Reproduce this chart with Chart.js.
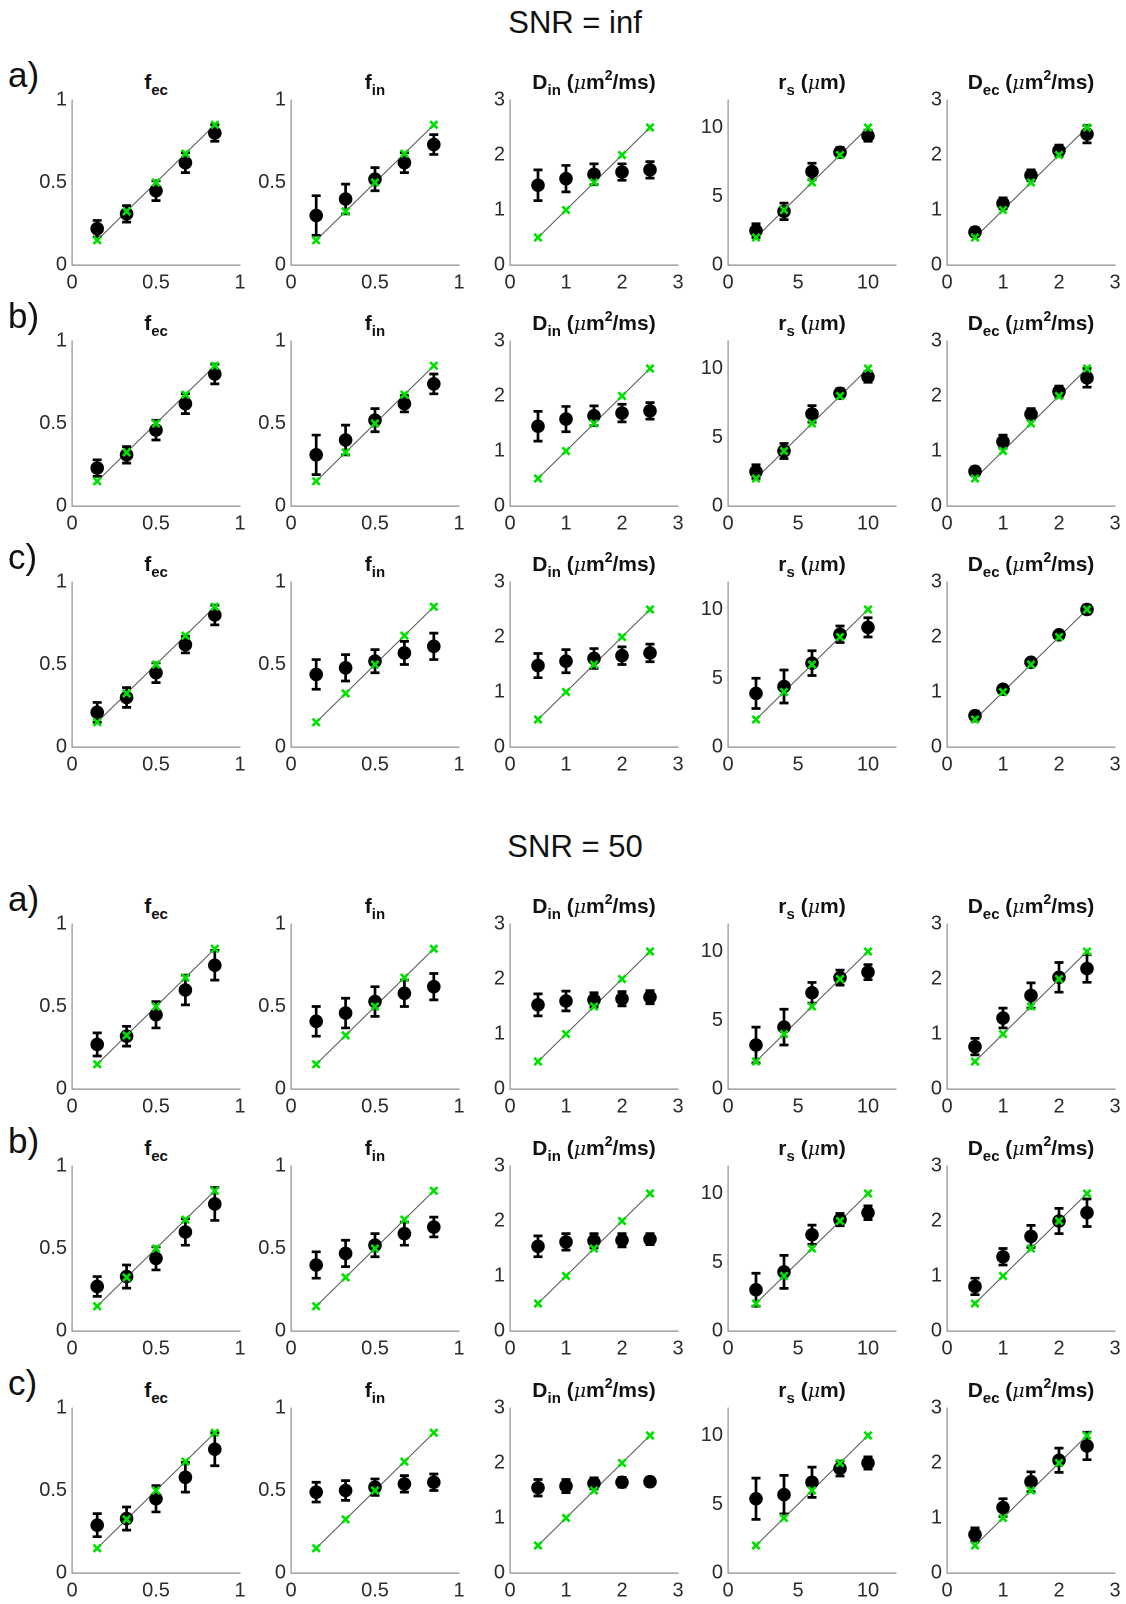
<!DOCTYPE html>
<html><head><meta charset="utf-8">
<script src="https://cdn.jsdelivr.net/npm/chart.js@4.4.1/dist/chart.umd.min.js"></script>
<style>
body{margin:0;background:#fff;}
#page{position:relative;width:1126px;height:1604px;background:#fff;font-family:"Liberation Sans",Arial,sans-serif;overflow:hidden;}
.sec{position:absolute;width:1126px;text-align:center;font-size:31px;color:#111;line-height:34px;}
.row{position:absolute;font-size:35px;color:#111;line-height:36px;}
.ttl{position:absolute;width:240px;text-align:center;font-weight:bold;font-size:21px;color:#111;white-space:nowrap;line-height:24px;}
.ttl sub{font-size:15px;vertical-align:-6px;line-height:0;}
.ttl sup{font-size:14px;vertical-align:9px;line-height:0;}
.ttl i{font-weight:normal;font-family:"DejaVu Serif","Liberation Serif",serif;font-size:19px;}
canvas{position:absolute;}
</style></head>
<body><div id="page"></div>
<script>
// ---- tick labels / truth values ----
const fTicks = [0, 0.5, 1];
const dTicks = [0, 1, 2, 3];
const rTicks = [0, 5, 10];
const fTrue = [0.15, 0.325, 0.5, 0.675, 0.85];
const dTrue = [0.5, 1, 1.5, 2, 2.5];
const rTrue = [2, 4, 6, 8, 10];

// ---- SNR = inf ----
const inf_a_fec = [0.22, 0.31, 0.45, 0.62, 0.80];
const inf_a_fec_err = [0.05, 0.05, 0.06, 0.06, 0.05];
const inf_a_fin = [0.30, 0.40, 0.52, 0.62, 0.73];
const inf_a_fin_err = [0.12, 0.09, 0.07, 0.06, 0.06];
const inf_a_din = [1.45, 1.57, 1.65, 1.69, 1.73];
const inf_a_din_err = [0.28, 0.24, 0.19, 0.15, 0.15];
const inf_a_rs = [2.5, 3.9, 6.8, 8.2, 9.4];
const inf_a_rs_err = [0.5, 0.6, 0.6, 0.35, 0.4];
const inf_a_dec = [0.60, 1.12, 1.63, 2.08, 2.38];
const inf_a_dec_err = [0.08, 0.10, 0.10, 0.10, 0.16];

const inf_b_fec = [0.23, 0.31, 0.46, 0.62, 0.80];
const inf_b_fec_err = [0.05, 0.05, 0.06, 0.06, 0.06];
const inf_b_fin = [0.31, 0.40, 0.52, 0.62, 0.74];
const inf_b_fin_err = [0.12, 0.09, 0.07, 0.05, 0.06];
const inf_b_din = [1.45, 1.58, 1.64, 1.69, 1.73];
const inf_b_din_err = [0.27, 0.23, 0.18, 0.16, 0.15];
const inf_b_rs = [2.5, 4.0, 6.7, 8.2, 9.4];
const inf_b_rs_err = [0.5, 0.55, 0.6, 0.35, 0.4];
const inf_b_dec = [0.63, 1.17, 1.67, 2.08, 2.33];
const inf_b_dec_err = [0.08, 0.12, 0.10, 0.10, 0.17];

const inf_c_fec = [0.21, 0.30, 0.45, 0.62, 0.80];
const inf_c_fec_err = [0.06, 0.06, 0.06, 0.05, 0.06];
const inf_c_fin = [0.44, 0.48, 0.52, 0.57, 0.61];
const inf_c_fin_err = [0.09, 0.08, 0.07, 0.07, 0.08];
const inf_c_din = [1.48, 1.56, 1.61, 1.66, 1.71];
const inf_c_din_err = [0.22, 0.21, 0.18, 0.16, 0.16];
const inf_c_rs = [3.9, 4.4, 6.1, 8.2, 8.7];
const inf_c_rs_err = [1.1, 1.2, 0.9, 0.6, 0.7];
const inf_c_dec = [0.57, 1.05, 1.54, 2.04, 2.50];
const inf_c_dec_err = [0.08, 0.05, 0.05, 0.05, 0.08];

// ---- SNR = 50 ----
const s50_a_fec = [0.27, 0.32, 0.45, 0.60, 0.75];
const s50_a_fec_err = [0.07, 0.06, 0.08, 0.09, 0.09];
const s50_a_fin = [0.41, 0.46, 0.53, 0.58, 0.62];
const s50_a_fin_err = [0.09, 0.09, 0.09, 0.08, 0.08];
const s50_a_din = [1.53, 1.60, 1.62, 1.64, 1.67];
const s50_a_din_err = [0.20, 0.18, 0.13, 0.13, 0.12];
const s50_a_rs = [3.2, 4.5, 7.0, 8.1, 8.5];
const s50_a_rs_err = [1.3, 1.3, 0.75, 0.55, 0.55];
const s50_a_dec = [0.77, 1.29, 1.70, 2.03, 2.19];
const s50_a_dec_err = [0.15, 0.18, 0.23, 0.27, 0.25];

const s50_b_fec = [0.27, 0.33, 0.44, 0.60, 0.77];
const s50_b_fec_err = [0.06, 0.07, 0.07, 0.08, 0.10];
const s50_b_fin = [0.40, 0.47, 0.52, 0.59, 0.63];
const s50_b_fin_err = [0.08, 0.08, 0.07, 0.07, 0.06];
const s50_b_din = [1.54, 1.62, 1.64, 1.65, 1.67];
const s50_b_din_err = [0.19, 0.15, 0.13, 0.12, 0.10];
const s50_b_rs = [3.0, 4.3, 7.0, 8.1, 8.6];
const s50_b_rs_err = [1.2, 1.2, 0.7, 0.45, 0.5];
const s50_b_dec = [0.81, 1.35, 1.72, 2.00, 2.15];
const s50_b_dec_err = [0.15, 0.15, 0.20, 0.23, 0.25];

const s50_c_fec = [0.29, 0.33, 0.45, 0.58, 0.75];
const s50_c_fec_err = [0.07, 0.07, 0.08, 0.09, 0.10];
const s50_c_fin = [0.49, 0.50, 0.52, 0.54, 0.55];
const s50_c_fin_err = [0.06, 0.06, 0.05, 0.05, 0.05];
const s50_c_din = [1.55, 1.58, 1.63, 1.65, 1.66];
const s50_c_din_err = [0.15, 0.12, 0.10, 0.09, 0.08];
const s50_c_rs = [5.4, 5.7, 6.6, 7.6, 8.0];
const s50_c_rs_err = [1.5, 1.4, 1.1, 0.55, 0.45];
const s50_c_dec = [0.70, 1.19, 1.66, 2.05, 2.31];
const s50_c_dec_err = [0.12, 0.16, 0.18, 0.22, 0.25];

const sectionTitles = ['SNR = inf', 'SNR = 50'];
const rowLabels = ['a)', 'b)', 'c)'];
const panelTitles = [
  'f<sub>ec</sub>',
  'f<sub>in</sub>',
  'D<sub>in</sub> (<i>\u03bc</i>m<sup>2</sup>/ms)',
  'r<sub>s</sub> (<i>\u03bc</i>m)',
  'D<sub>ec</sub> (<i>\u03bc</i>m<sup>2</sup>/ms)'
];

// ---- layout ----
const colX = [72, 291, 510, 728, 947];
const plotW = 168;
const plotH = 168;
const rowTop = [100, 341, 582, 924, 1166, 1408];
const secTitleY = [6, 830];
const FONT = '"Liberation Sans", Arial, sans-serif';

const colSpec = [
  {truth: fTrue, ticks: fTicks, max: 1},
  {truth: fTrue, ticks: fTicks, max: 1},
  {truth: dTrue, ticks: dTicks, max: 3},
  {truth: rTrue, ticks: rTicks, max: 12},
  {truth: dTrue, ticks: dTicks, max: 3}
];
const rowsData = [
  [[inf_a_fec, inf_a_fec_err], [inf_a_fin, inf_a_fin_err], [inf_a_din, inf_a_din_err], [inf_a_rs, inf_a_rs_err], [inf_a_dec, inf_a_dec_err]],
  [[inf_b_fec, inf_b_fec_err], [inf_b_fin, inf_b_fin_err], [inf_b_din, inf_b_din_err], [inf_b_rs, inf_b_rs_err], [inf_b_dec, inf_b_dec_err]],
  [[inf_c_fec, inf_c_fec_err], [inf_c_fin, inf_c_fin_err], [inf_c_din, inf_c_din_err], [inf_c_rs, inf_c_rs_err], [inf_c_dec, inf_c_dec_err]],
  [[s50_a_fec, s50_a_fec_err], [s50_a_fin, s50_a_fin_err], [s50_a_din, s50_a_din_err], [s50_a_rs, s50_a_rs_err], [s50_a_dec, s50_a_dec_err]],
  [[s50_b_fec, s50_b_fec_err], [s50_b_fin, s50_b_fin_err], [s50_b_din, s50_b_din_err], [s50_b_rs, s50_b_rs_err], [s50_b_dec, s50_b_dec_err]],
  [[s50_c_fec, s50_c_fec_err], [s50_c_fin, s50_c_fin_err], [s50_c_din, s50_c_din_err], [s50_c_rs, s50_c_rs_err], [s50_c_dec, s50_c_dec_err]]
];

const errorBarPlugin = {
  id: 'errbars',
  beforeDatasetDraw(chart, args) {
    const ds = chart.data.datasets[args.index];
    if (!ds.errors) return;
    const ctx = chart.ctx, xs = chart.scales.x, ys = chart.scales.y;
    ctx.save();
    ctx.strokeStyle = '#000';
    ctx.lineWidth = 2.7;
    ctx.lineCap = 'butt';
    ds.data.forEach((p, i) => {
      const e = ds.errors[i];
      const px = xs.getPixelForValue(p.x);
      const y1 = ys.getPixelForValue(p.y - e);
      const y2 = ys.getPixelForValue(p.y + e);
      ctx.beginPath();
      ctx.moveTo(px, y1); ctx.lineTo(px, y2);
      ctx.moveTo(px - 4.5, y1); ctx.lineTo(px + 4.5, y1);
      ctx.moveTo(px - 4.5, y2); ctx.lineTo(px + 4.5, y2);
      ctx.stroke();
    });
    ctx.restore();
  }
};

const page = document.getElementById('page');
function addDiv(cls, html, left, top) {
  const d = document.createElement('div');
  d.className = cls; d.innerHTML = html;
  d.style.left = left + 'px';
  d.style.top = top + 'px';
  page.appendChild(d);
  return d;
}

sectionTitles.forEach((t, i) => addDiv('sec', t, 12, secTitleY[i]));

function axisCfg(ticks, max, isX) {
  return {
    type: 'linear', min: 0, max: max,
    position: isX ? 'bottom' : 'left',
    afterBuildTicks: a => { a.ticks = ticks.map(v => ({value: v})); },
    afterFit: s => { if (isX) s.height = 32; else s.width = 44; },
    grid: {display: false, drawTicks: false},
    border: {display: true, color: '#8c8c8c', width: 1.2},
    ticks: {
      color: '#2b2b2b', padding: isX ? 6 : 5, autoSkip: false, maxRotation: 0,
      font: {size: 20, family: FONT},
      callback: v => String(v)
    }
  };
}

rowTop.forEach((top, r) => {
  addDiv('row', rowLabels[r % 3], 8, top - 43);
  colSpec.forEach((spec, c) => {
    const [mean, err] = rowsData[r][c];
    addDiv('ttl', panelTitles[c], colX[c] + plotW / 2 - 120, top - 30);
    const truthPts = spec.truth.map((v, i) => ({x: v, y: spec.truth[i]}));
    const meanPts = spec.truth.map((v, i) => ({x: v, y: mean[i]}));
    const cv = document.createElement('canvas');
    page.appendChild(cv);
    let W = 44 + plotW + 16, H = 14 + plotH + 32;
    cv.style.width = W + 'px'; cv.style.height = H + 'px';
    cv.width = W; cv.height = H;
    const chart = new Chart(cv, {
      type: 'scatter',
      data: {datasets: [
        {type: 'line', data: truthPts, borderColor: '#5c5c5c', borderWidth: 1.1, pointRadius: 0, fill: false, order: 3, clip: false},
        {data: meanPts, errors: err, pointRadius: 6.3, pointHoverRadius: 6.3, backgroundColor: '#000', borderColor: '#000', borderWidth: 1, order: 2, clip: false},
        {data: truthPts, pointStyle: 'crossRot', pointRadius: 5.2, pointHoverRadius: 5.2, borderColor: '#00e000', backgroundColor: '#00e000', borderWidth: 2.7, order: 1, clip: false}
      ]},
      options: {
        responsive: false, animation: false, devicePixelRatio: 2,
        layout: {padding: {left: 0, right: 16, top: 14, bottom: 0}},
        plugins: {legend: {display: false}, tooltip: {enabled: false}},
        events: [],
        scales: {x: axisCfg(spec.ticks, spec.max, true), y: axisCfg(spec.ticks, spec.max, false)}
      },
      plugins: [errorBarPlugin]
    });
    const ca = chart.chartArea;
    const dw = plotW - (ca.right - ca.left), dh = plotH - (ca.bottom - ca.top);
    if (Math.abs(dw) > 0.5 || Math.abs(dh) > 0.5) {
      W += dw; H += dh;
      chart.resize(W, H);
    }
    const ca2 = chart.chartArea;
    cv.style.left = (colX[c] - ca2.left) + 'px';
    cv.style.top = (top - ca2.top) + 'px';
  });
});
</script>
</body></html>
